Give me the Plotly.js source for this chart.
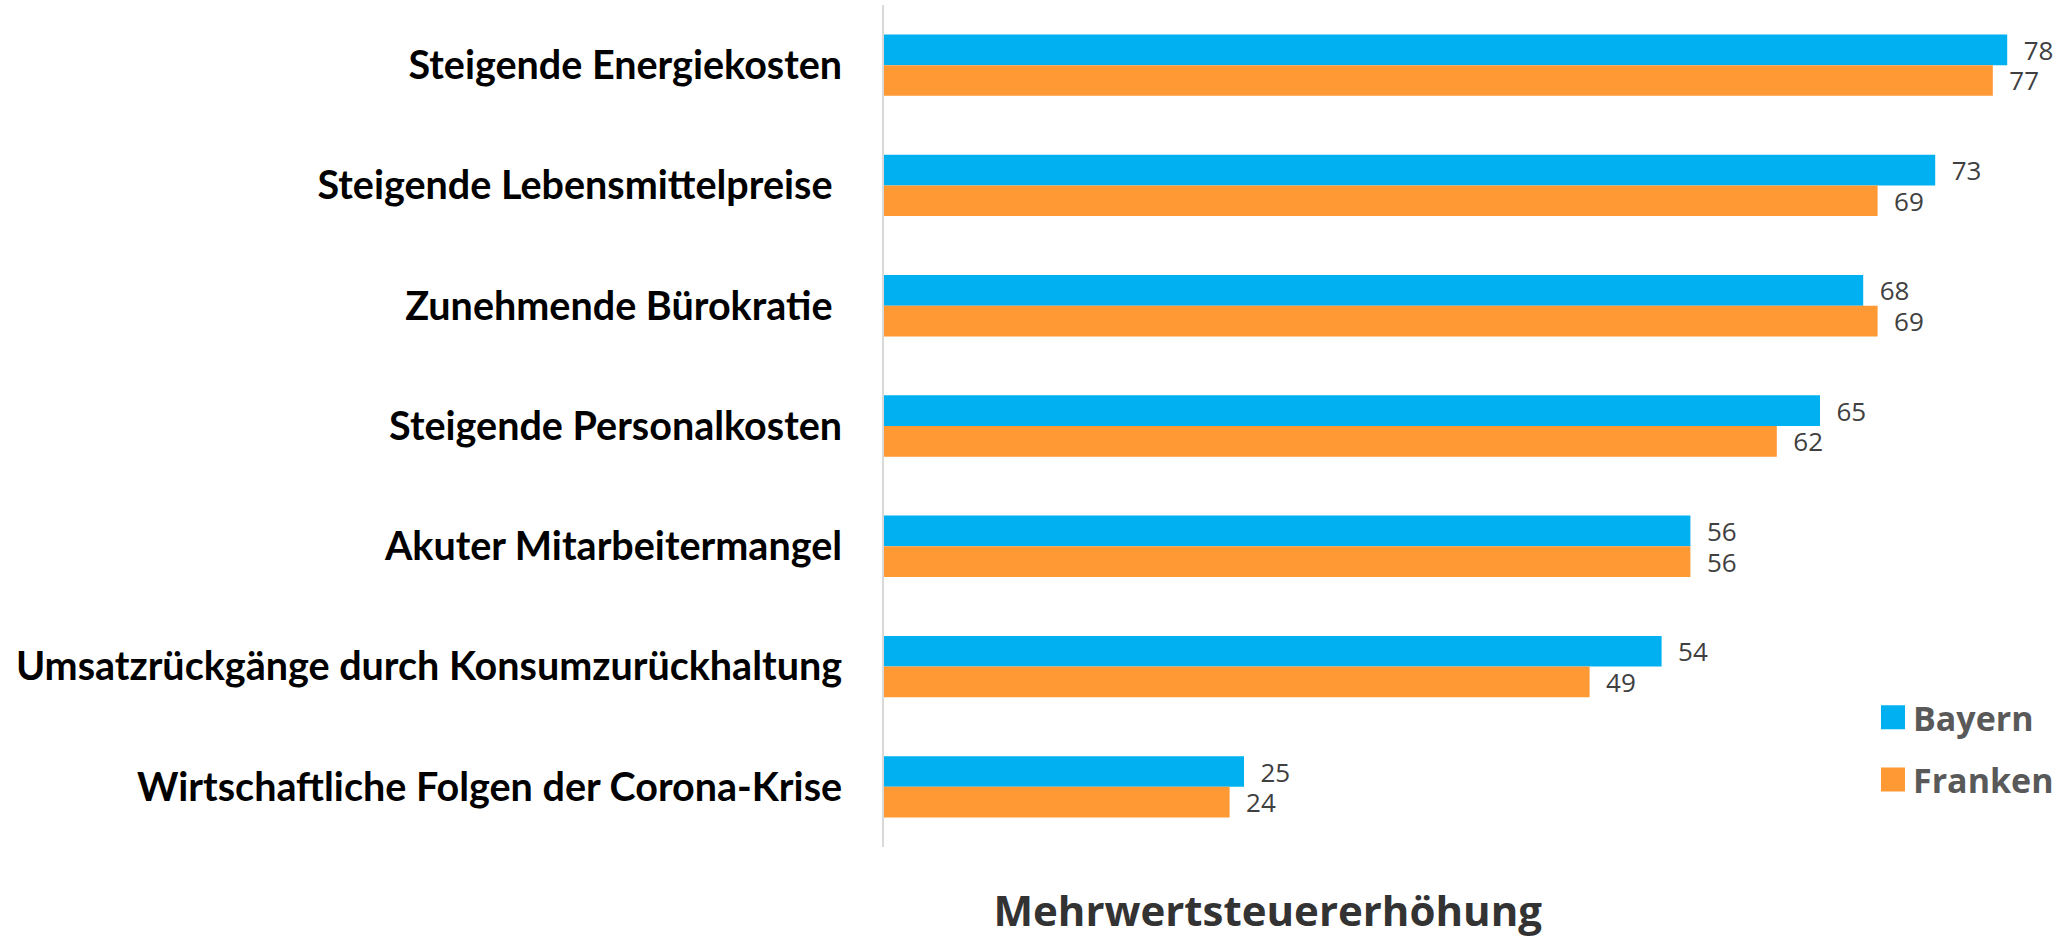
<!DOCTYPE html>
<html>
<head>
<meta charset="utf-8">
<script src="https://cdn.plot.ly/plotly-3.0.1.min.js"></script>
<style>
  html, body { margin: 0; padding: 0; background: #ffffff; }
  #chart { width: 2068px; height: 938px; }
  .legend .legendpoints path { d: path("M12,12H-12V-12H12Z"); }
</style>
</head>
<body>
<div id="chart"></div>
<script>
const categories = [
  "Steigende Energiekosten",
  "Steigende Lebensmittelpreise\u00a0",
  "Zunehmende Bürokratie\u00a0",
  "Steigende Personalkosten",
  "Akuter Mitarbeitermangel",
  "Umsatzrückgänge durch Konsumzurückhaltung",
  "Wirtschaftliche Folgen der Corona-Krise"
];
const bayern = [78, 73, 68, 65, 56, 54, 25];
const franken = [77, 69, 69, 62, 56, 49, 24];
const seriesNames = ["Bayern", "Franken"];
const chartTitle = "Mehrwertsteuererhöhung";

const labelFont = { family: "Open Sans, sans-serif", size: 26, color: "#404040" };

const traces = [
  {
    type: "bar", orientation: "h", name: seriesNames[0], legendgroup: "a",
    x: bayern, y: categories,
    marker: { color: "#00B0F0" },
    text: bayern, texttemplate: "\u00a0\u00a0%{x}", textposition: "outside",
    constraintext: "none",
    textfont: labelFont, cliponaxis: false, hoverinfo: "x+y"
  },
  {
    type: "bar", orientation: "h", name: seriesNames[1], legendgroup: "b",
    x: franken, y: categories,
    marker: { color: "#FF9933" },
    text: franken, texttemplate: "\u00a0\u00a0%{x}", textposition: "outside",
    constraintext: "none",
    textfont: labelFont, cliponaxis: false, hoverinfo: "x+y"
  }
];

const layout = {
  width: 2068, height: 938,
  paper_bgcolor: "#ffffff", plot_bgcolor: "#ffffff",
  margin: { l: 884, r: 32, t: 5, b: 91, pad: 0 },
  barmode: "group", bargap: 0.49, bargroupgap: 0,
  showlegend: true,
  legend: {
    x: 0.8585, y: 0.188, xanchor: "left", yanchor: "top",
    font: { family: "Open Sans, sans-serif", size: 34, color: "#595959", weight: 700 },
    traceorder: "grouped", tracegroupgap: 15, itemwidth: 30,
    bgcolor: "rgba(0,0,0,0)"
  },
  title: {
    text: chartTitle,
    xref: "container", yref: "container",
    x: 0.613, y: 0.028, xanchor: "center", yanchor: "middle",
    font: { family: "Open Sans, sans-serif", size: 42, color: "#333333", weight: 700 }
  },
  xaxis: {
    range: [0, 80], visible: false, showgrid: false, zeroline: false, fixedrange: true
  },
  yaxis: {
    autorange: "reversed", type: "category",
    showline: true, linecolor: "#D9D9D9", linewidth: 2,
    showgrid: false, zeroline: false, ticks: "",
    ticklabelstandoff: 32,
    tickfont: { family: "Lato, sans-serif", size: 39.5, color: "#000000", weight: 700 },
    fixedrange: true
  }
};

Plotly.newPlot("chart", traces, layout, { displayModeBar: false, staticPlot: true });
</script>
</body>
</html>
